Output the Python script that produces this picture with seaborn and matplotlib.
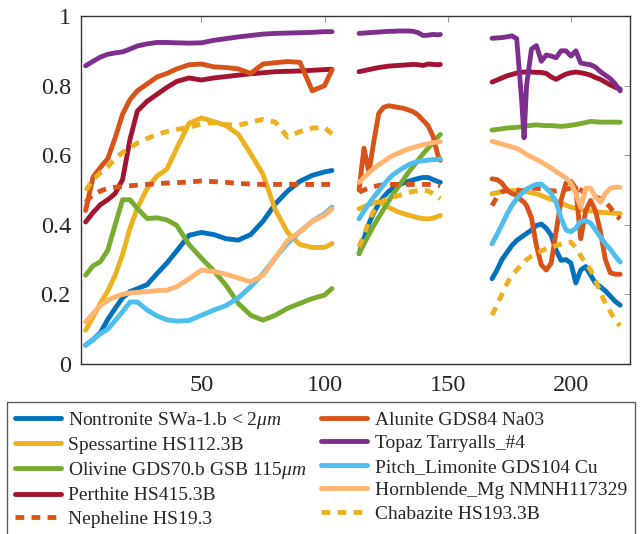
import numpy as np
import pandas as pd
import matplotlib
matplotlib.use('Agg')
import matplotlib.pyplot as plt
from matplotlib.lines import Line2D
from matplotlib.ticker import FuncFormatter
import seaborn as sns

# band index grids for the three spectral windows
x1 = [3, 6, 9, 12, 15, 18, 21, 24, 28, 32, 36, 40, 45, 50, 55, 60, 65, 70, 75, 80, 85, 90, 95, 100, 103]
x2 = [114, 116, 118, 120, 122, 124, 126, 128, 130, 132, 134, 136, 138, 140, 142, 144, 146, 147]
x3 = [168, 170, 172, 174, 176, 178, 180, 181, 182, 184, 186, 188, 190, 192, 194, 196, 198, 200,
      202, 204, 206, 208, 210, 212, 214, 216, 218, 220]

nontronite = (
    [0.054, 0.07, 0.09, 0.128, 0.16, 0.19, 0.208, 0.216, 0.228, 0.26, 0.29, 0.325, 0.37, 0.378,
     0.372, 0.36, 0.356, 0.372, 0.41, 0.46, 0.497, 0.525, 0.542, 0.552, 0.556],
    [0.317, 0.36, 0.403, 0.435, 0.46, 0.48, 0.496, 0.506, 0.514, 0.52, 0.525, 0.529, 0.533, 0.536,
     0.536, 0.53, 0.524, 0.522],
    [0.245, 0.27, 0.3, 0.32, 0.34, 0.355, 0.365, 0.37, 0.375, 0.385, 0.398, 0.402, 0.39, 0.37,
     0.327, 0.298, 0.3, 0.29, 0.233, 0.27, 0.28, 0.255, 0.232, 0.222, 0.21, 0.195, 0.18, 0.169],
)
spessartine = (
    [0.097, 0.135, 0.175, 0.21, 0.255, 0.315, 0.39, 0.448, 0.505, 0.54, 0.56, 0.62, 0.692, 0.707,
     0.697, 0.685, 0.66, 0.604, 0.545, 0.443, 0.378, 0.343, 0.335, 0.335, 0.346],
    [0.446, 0.452, 0.458, 0.463, 0.466, 0.46, 0.45, 0.443, 0.437, 0.432, 0.428, 0.424, 0.42, 0.418,
     0.417, 0.419, 0.424, 0.427],
    [0.489, 0.492, 0.495, 0.497, 0.498, 0.498, 0.498, 0.497, 0.495, 0.492, 0.489, 0.484, 0.478,
     0.473, 0.468, 0.463, 0.456, 0.451, 0.447, 0.444, 0.441, 0.44, 0.438, 0.436, 0.435, 0.434,
     0.433, 0.432],
)
olivine = (
    [0.255, 0.282, 0.294, 0.327, 0.4, 0.472, 0.472, 0.447, 0.418, 0.42, 0.414, 0.398, 0.343, 0.304,
     0.268, 0.226, 0.174, 0.14, 0.126, 0.14, 0.16, 0.174, 0.188, 0.198, 0.217],
    [0.317, 0.345, 0.372, 0.398, 0.422, 0.445, 0.468, 0.49, 0.51, 0.53, 0.55, 0.568, 0.586, 0.604,
     0.62, 0.636, 0.652, 0.66],
    [0.672, 0.674, 0.676, 0.678, 0.679, 0.68, 0.682, 0.683, 0.684, 0.686, 0.687, 0.686, 0.685,
     0.685, 0.684, 0.683, 0.684, 0.686, 0.688, 0.691, 0.694, 0.697, 0.696, 0.695, 0.695, 0.695,
     0.695, 0.695],
)
perthite = (
    [0.408, 0.435, 0.458, 0.472, 0.49, 0.53, 0.645, 0.727, 0.755, 0.775, 0.795, 0.812, 0.822, 0.816,
     0.822, 0.826, 0.83, 0.834, 0.837, 0.84, 0.841, 0.842, 0.844, 0.846, 0.847],
    [0.84, 0.843, 0.846, 0.849, 0.852, 0.854, 0.856, 0.857, 0.858, 0.859, 0.86, 0.861, 0.86, 0.858,
     0.862, 0.861, 0.86, 0.861],
    [0.81, 0.816, 0.822, 0.828, 0.832, 0.836, 0.838, 0.839, 0.839, 0.839, 0.838, 0.838, 0.835,
     0.825, 0.818, 0.826, 0.833, 0.837, 0.839, 0.837, 0.834, 0.83, 0.823, 0.818, 0.81, 0.802,
     0.795, 0.79],
)
nepheline = (
    [0.465, 0.487, 0.497, 0.505, 0.508, 0.51, 0.512, 0.514, 0.516, 0.518, 0.52, 0.521, 0.523, 0.526,
     0.524, 0.522, 0.519, 0.517, 0.516, 0.516, 0.516, 0.516, 0.516, 0.516, 0.516],
    [0.494, 0.5, 0.506, 0.51, 0.513, 0.515, 0.516, 0.516, 0.516, 0.516, 0.516, 0.516, 0.516, 0.516,
     0.516, 0.515, 0.514, 0.513],
    [0.455, 0.48, 0.495, 0.5, 0.502, 0.5, 0.498, 0.498, 0.5, 0.505, 0.505, 0.503, 0.5, 0.498, 0.497,
     0.498, 0.502, 0.506, 0.506, 0.5, 0.49, 0.485, 0.48, 0.475, 0.465, 0.45, 0.43, 0.417],
)
alunite = (
    [0.441, 0.537, 0.565, 0.59, 0.65, 0.718, 0.76, 0.785, 0.805, 0.825, 0.835, 0.848, 0.86, 0.862,
     0.854, 0.852, 0.848, 0.835, 0.862, 0.866, 0.869, 0.867, 0.785, 0.8, 0.845],
    [0.5, 0.62, 0.55, 0.64, 0.72, 0.738, 0.742, 0.74, 0.737, 0.735, 0.73, 0.725, 0.715, 0.7, 0.685,
     0.655, 0.6, 0.585],
    [0.532, 0.53, 0.52, 0.5, 0.49, 0.485, 0.47, 0.465, 0.455, 0.42, 0.34, 0.285, 0.27, 0.29, 0.38,
     0.47, 0.52, 0.525, 0.505, 0.36, 0.44, 0.47, 0.44, 0.38, 0.3, 0.262, 0.258, 0.258],
)
topaz = (
    [0.857, 0.87, 0.882, 0.89, 0.894, 0.897, 0.905, 0.914, 0.92, 0.924, 0.924, 0.923, 0.922, 0.923,
     0.93, 0.935, 0.94, 0.944, 0.948, 0.95, 0.951, 0.952, 0.953, 0.955, 0.955],
    [0.95, 0.951, 0.952, 0.953, 0.954, 0.955, 0.956, 0.956, 0.957, 0.957, 0.957, 0.956, 0.952,
     0.944, 0.945, 0.947, 0.946, 0.947],
    [0.936, 0.937, 0.938, 0.94, 0.943, 0.935, 0.76, 0.65, 0.8, 0.905, 0.915, 0.87, 0.888, 0.885,
     0.88, 0.9, 0.9, 0.885, 0.9, 0.865, 0.862, 0.86, 0.853, 0.84, 0.83, 0.82, 0.805, 0.785],
)
pitch_limonite = (
    [0.054, 0.07, 0.087, 0.1, 0.125, 0.15, 0.178, 0.178, 0.155, 0.138, 0.127, 0.123, 0.125, 0.14,
     0.155, 0.168, 0.19, 0.222, 0.26, 0.305, 0.347, 0.38, 0.41, 0.432, 0.451],
    [0.417, 0.44, 0.46, 0.48, 0.497, 0.515, 0.532, 0.545, 0.555, 0.564, 0.572, 0.578, 0.582, 0.584,
     0.586, 0.587, 0.588, 0.589],
    [0.345, 0.372, 0.4, 0.43, 0.455, 0.475, 0.49, 0.496, 0.503, 0.51, 0.516, 0.517, 0.505, 0.49,
     0.465, 0.42, 0.385, 0.38, 0.39, 0.41, 0.412, 0.405, 0.385, 0.365, 0.345, 0.33, 0.31, 0.293],
)
hornblende = (
    [0.121, 0.145, 0.168, 0.183, 0.193, 0.2, 0.204, 0.206, 0.208, 0.211, 0.212, 0.222, 0.245, 0.27,
     0.266, 0.258, 0.247, 0.236, 0.255, 0.305, 0.355, 0.38, 0.41, 0.428, 0.446],
    [0.522, 0.536, 0.55, 0.562, 0.573, 0.582, 0.592, 0.6, 0.606, 0.612, 0.618, 0.622, 0.626, 0.63,
     0.633, 0.636, 0.638, 0.639],
    [0.64, 0.636, 0.632, 0.628, 0.624, 0.62, 0.612, 0.607, 0.602, 0.595, 0.588, 0.58, 0.572, 0.563,
     0.553, 0.544, 0.535, 0.52, 0.49, 0.45, 0.505, 0.505, 0.48, 0.465, 0.49, 0.505, 0.508, 0.508],
)
chabazite = (
    [0.498, 0.53, 0.55, 0.567, 0.59, 0.608, 0.622, 0.635, 0.648, 0.66, 0.668, 0.674, 0.68, 0.69,
     0.694, 0.688, 0.686, 0.695, 0.703, 0.695, 0.652, 0.668, 0.678, 0.68, 0.661],
    [0.336, 0.37, 0.41, 0.44, 0.46, 0.47, 0.476, 0.48, 0.484, 0.488, 0.492, 0.496, 0.498, 0.499,
     0.497, 0.49, 0.48, 0.475],
    [0.14, 0.17, 0.2, 0.23, 0.255, 0.27, 0.285, 0.29, 0.3, 0.31, 0.318, 0.325, 0.331, 0.335, 0.34,
     0.345, 0.35, 0.35, 0.335, 0.31, 0.29, 0.27, 0.24, 0.205, 0.175, 0.15, 0.125, 0.11],
)

labels = ['Nontronite SWa-1.b < 2$\\mu m$', 'Spessartine HS112.3B',
          'Olivine GDS70.b GSB 115$\\mu m$', 'Perthite HS415.3B', 'Nepheline HS19.3',
          'Alunite GDS84 Na03', 'Topaz Tarryalls_#4', 'Pitch_Limonite GDS104 Cu',
          'Hornblende_Mg NMNH117329', 'Chabazite HS193.3B']
series = [nontronite, spessartine, olivine, perthite, nepheline,
          alunite, topaz, pitch_limonite, hornblende, chabazite]
colors = ['#0072BD', '#EDB120', '#77AC30', '#A2142F', '#D95319',
          '#D95319', '#7E2F8E', '#4DBEEE', '#FFB570', '#EDB120']
dashed = [False, False, False, False, True, False, False, False, False, True]

sns.set_style('white')
plt.rcParams['font.family'] = ['Liberation Serif', 'DejaVu Serif']
plt.rcParams['mathtext.fontset'] = 'custom'
plt.rcParams['mathtext.rm'] = 'Liberation Serif'
plt.rcParams['mathtext.it'] = 'Liberation Serif:italic'

fig = plt.figure(figsize=(6.42, 5.34), dpi=100)
ax = fig.add_axes([0.1257, 0.3184, 0.8556, 0.6516])

lw = 3.5
dash_style = (0, (1.8, 1.5))
handles = []
for vals, lab, col, dsh in zip(series, labels, colors, dashed):
    ls = dash_style if dsh else '-'
    for xs, ys in zip((x1, x2, x3), vals):
        sns.lineplot(x=xs, y=ys, ax=ax, color=col, linewidth=lw, linestyle=ls,
                     estimator=None, sort=False)
    handles.append(Line2D([], [], color=col, linewidth=lw, linestyle=ls, label=lab))

ax.set_xlim(1, 224)
ax.set_ylim(0, 1)
ax.set_xticks([50, 100, 150, 200])
ax.set_yticks([0, 0.2, 0.4, 0.6, 0.8, 1])
ax.yaxis.set_major_formatter(FuncFormatter(lambda v, p: ('%g' % round(v, 2))))
ax.tick_params(direction='in', length=4, width=0.8, color='#999999', labelsize=17.5,
               top=True, right=True)
ax.tick_params(axis='x', pad=8)
ax.tick_params(axis='y', pad=7)
for sp in ax.spines.values():
    sp.set_color('#333333')
    sp.set_linewidth(1.0)

# matplotlib fills legend columns first, matching the reference order
leg = fig.legend(handles=handles, ncol=2, loc='upper center', bbox_to_anchor=(0.5, 0.2472),
                 fontsize=14, frameon=True, fancybox=False, edgecolor='#333333',
                 handlelength=2.35, handletextpad=0.4, columnspacing=0.75,
                 labelspacing=0.3, borderpad=0.4, borderaxespad=0)
leg.get_frame().set_linewidth(1.0)

fig.savefig('out.png', dpi=100)
